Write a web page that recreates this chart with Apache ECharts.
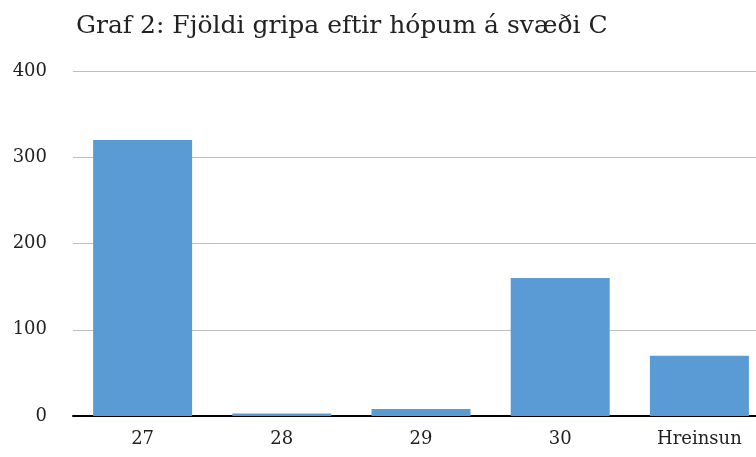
<!DOCTYPE html>
<html>
<head>
<meta charset="utf-8">
<script src="https://cdn.jsdelivr.net/npm/echarts@6/dist/echarts.min.js"></script>
<style>
  html, body { margin: 0; padding: 0; background: #fff; }
  #chart { width: 756px; height: 457px; }
</style>
</head>
<body>
<div id="chart"></div>
<script>
// gögn úr grafinu
const categories = ['27', '28', '29', '30', 'Hreinsun'];
const counts = [320, 3, 8, 160, 70];
const yTicks = { min: 0, max: 400, interval: 100 };
const titleText = 'Graf 2: Fjöldi gripa eftir hópum á svæði C';

const font = '"DejaVu Serif", "Liberation Serif", serif';

const chart = echarts.init(document.getElementById('chart'));

chart.setOption({
    animation: false,
    backgroundColor: '#ffffff',
    title: {
        text: titleText,
        left: 71,
        top: 9,
        textStyle: { fontFamily: font, fontSize: 25, fontWeight: 'normal', color: '#222' }
    },
    grid: {
        left: 73,
        top: 71,
        width: 696,
        height: 345,
        outerBoundsMode: 'none'
    },
    xAxis: {
        type: 'category',
        data: categories,
        axisLine: { lineStyle: { color: '#000', width: 2 } },
        axisTick: { show: false },
        axisLabel: { fontFamily: font, fontSize: 18, color: '#222', margin: 14 }
    },
    yAxis: {
        type: 'value',
        min: yTicks.min,
        max: yTicks.max,
        interval: yTicks.interval,
        axisLine: { show: false },
        axisTick: { show: false },
        axisLabel: { fontFamily: font, fontSize: 18, color: '#222', margin: 26 },
        splitLine: { lineStyle: { color: '#bfbfbf', width: 1 } }
    },
    series: [{
        type: 'bar',
        data: counts,
        barWidth: 99,
        itemStyle: { color: '#5b9bd5' }
    }]
});
</script>
</body>
</html>
